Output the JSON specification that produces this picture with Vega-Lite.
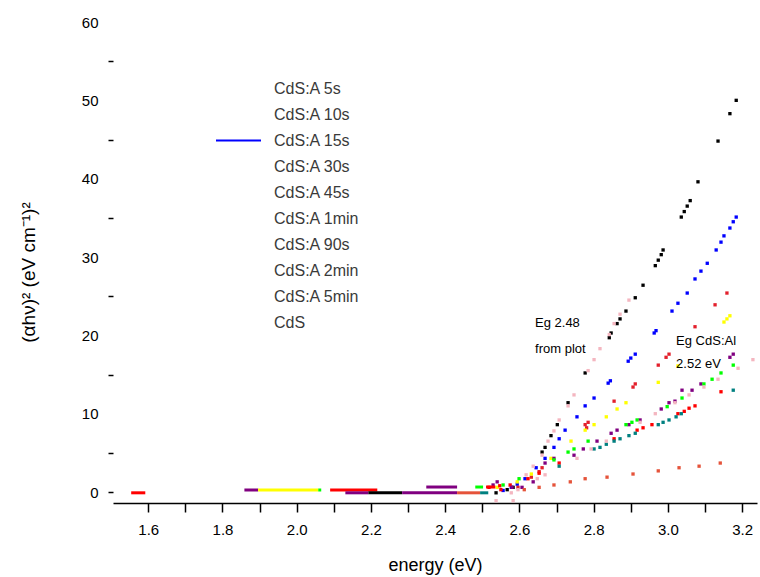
{
  "$schema": "https://vega.github.io/schema/vega-lite/v6.json",
  "width": 644,
  "height": 481,
  "autosize": {"type": "none"},
  "padding": {"left": 113, "top": 22, "right": 3, "bottom": 74},
  "background": "white",
  "config": {"view": {"stroke": null}, "font": "Liberation Sans"},
  "datasets": {
    "pts": [
      {"s":"CdS:A 5s","e":2.537,"v":-0.1},{"s":"CdS:A 5s","e":2.567,"v":0.3},{"s":"CdS:A 5s","e":2.583,"v":0.6},{"s":"CdS:A 5s","e":2.661,"v":5.1},{"s":"CdS:A 5s","e":2.669,"v":5.7},{"s":"CdS:A 5s","e":2.685,"v":7.2},{"s":"CdS:A 5s","e":2.702,"v":8.6},{"s":"CdS:A 5s","e":2.731,"v":11.4},{"s":"CdS:A 5s","e":2.777,"v":15.2},{"s":"CdS:A 5s","e":2.842,"v":19.7},{"s":"CdS:A 5s","e":2.847,"v":20.3},{"s":"CdS:A 5s","e":2.863,"v":21.5},{"s":"CdS:A 5s","e":2.871,"v":22.1},{"s":"CdS:A 5s","e":2.887,"v":23.1},{"s":"CdS:A 5s","e":2.912,"v":24.8},{"s":"CdS:A 5s","e":2.933,"v":26.4},{"s":"CdS:A 5s","e":2.966,"v":28.9},{"s":"CdS:A 5s","e":2.974,"v":29.6},{"s":"CdS:A 5s","e":2.982,"v":30.3},{"s":"CdS:A 5s","e":2.987,"v":30.9},{"s":"CdS:A 5s","e":3.036,"v":35.1},{"s":"CdS:A 5s","e":3.044,"v":35.8},{"s":"CdS:A 5s","e":3.052,"v":36.5},{"s":"CdS:A 5s","e":3.060,"v":37.2},{"s":"CdS:A 5s","e":3.081,"v":39.6},{"s":"CdS:A 5s","e":3.135,"v":44.8},{"s":"CdS:A 5s","e":3.167,"v":48.3},{"s":"CdS:A 5s","e":3.184,"v":50.0},

      {"s":"CdS:A 15s","e":2.556,"v":0.2},{"s":"CdS:A 15s","e":2.578,"v":0.6},{"s":"CdS:A 15s","e":2.594,"v":1.0},{"s":"CdS:A 15s","e":2.615,"v":1.7},{"s":"CdS:A 15s","e":2.645,"v":3.1},{"s":"CdS:A 15s","e":2.669,"v":4.3},{"s":"CdS:A 15s","e":2.693,"v":5.7},{"s":"CdS:A 15s","e":2.707,"v":6.8},{"s":"CdS:A 15s","e":2.723,"v":7.9},{"s":"CdS:A 15s","e":2.755,"v":9.6},{"s":"CdS:A 15s","e":2.777,"v":11.0},{"s":"CdS:A 15s","e":2.801,"v":12.0},{"s":"CdS:A 15s","e":2.839,"v":13.9},{"s":"CdS:A 15s","e":2.845,"v":14.2},{"s":"CdS:A 15s","e":2.893,"v":16.7},{"s":"CdS:A 15s","e":2.900,"v":17.1},{"s":"CdS:A 15s","e":2.912,"v":17.6},{"s":"CdS:A 15s","e":2.963,"v":20.3},{"s":"CdS:A 15s","e":2.968,"v":20.6},{"s":"CdS:A 15s","e":3.011,"v":23.1},{"s":"CdS:A 15s","e":3.027,"v":24.1},{"s":"CdS:A 15s","e":3.052,"v":25.4},{"s":"CdS:A 15s","e":3.073,"v":27.2},{"s":"CdS:A 15s","e":3.089,"v":28.2},{"s":"CdS:A 15s","e":3.106,"v":29.2},{"s":"CdS:A 15s","e":3.130,"v":30.9},{"s":"CdS:A 15s","e":3.143,"v":31.9},{"s":"CdS:A 15s","e":3.151,"v":32.7},{"s":"CdS:A 15s","e":3.167,"v":33.7},{"s":"CdS:A 15s","e":3.176,"v":34.5},{"s":"CdS:A 15s","e":3.184,"v":35.1},

      {"s":"CdS:A 10s","e":2.596,"v":0.6},{"s":"CdS:A 10s","e":2.632,"v":1.9},{"s":"CdS:A 10s","e":2.653,"v":2.6},{"s":"CdS:A 10s","e":2.661,"v":3.1},{"s":"CdS:A 10s","e":2.777,"v":8.6},{"s":"CdS:A 10s","e":2.781,"v":8.2},{"s":"CdS:A 10s","e":2.785,"v":8.9},{"s":"CdS:A 10s","e":2.855,"v":11.6},{"s":"CdS:A 10s","e":2.906,"v":13.4},{"s":"CdS:A 10s","e":2.912,"v":13.8},{"s":"CdS:A 10s","e":2.974,"v":16.2},{"s":"CdS:A 10s","e":2.995,"v":17.2},{"s":"CdS:A 10s","e":3.003,"v":17.6},{"s":"CdS:A 10s","e":3.073,"v":21.1},{"s":"CdS:A 10s","e":3.127,"v":23.9},{"s":"CdS:A 10s","e":3.159,"v":25.4},

      {"s":"CdS:A 90s","e":2.518,"v":0.6},{"s":"CdS:A 90s","e":2.550,"v":0.3},{"s":"CdS:A 90s","e":2.575,"v":0.9},{"s":"CdS:A 90s","e":2.623,"v":1.7},{"s":"CdS:A 90s","e":2.653,"v":2.4},{"s":"CdS:A 90s","e":2.707,"v":3.7},{"s":"CdS:A 90s","e":2.855,"v":6.8},{"s":"CdS:A 90s","e":2.917,"v":7.9},{"s":"CdS:A 90s","e":2.933,"v":8.2},{"s":"CdS:A 90s","e":2.957,"v":8.6},{"s":"CdS:A 90s","e":3.027,"v":10.0},{"s":"CdS:A 90s","e":3.044,"v":10.3},{"s":"CdS:A 90s","e":3.057,"v":10.7},{"s":"CdS:A 90s","e":3.073,"v":11.0},{"s":"CdS:A 90s","e":3.143,"v":12.8},

      {"s":"CdS:A 30s","e":2.540,"v":0.6},{"s":"CdS:A 90s","e":2.547,"v":0.8},{"s":"CdS:A 30s","e":2.594,"v":1.3},{"s":"CdS:A 30s","e":2.632,"v":2.3},{"s":"CdS:A 30s","e":2.685,"v":4.3},{"s":"CdS:A 30s","e":2.739,"v":6.5},{"s":"CdS:A 30s","e":2.777,"v":7.9},{"s":"CdS:A 30s","e":2.801,"v":8.6},{"s":"CdS:A 30s","e":2.834,"v":9.6},{"s":"CdS:A 30s","e":2.863,"v":10.6},{"s":"CdS:A 30s","e":2.887,"v":11.4},{"s":"CdS:A 30s","e":2.974,"v":14.0},{"s":"CdS:A 30s","e":3.027,"v":16.1},{"s":"CdS:A 30s","e":3.151,"v":21.7},{"s":"CdS:A 30s","e":3.159,"v":22.1},{"s":"CdS:A 30s","e":3.167,"v":22.5},

      {"s":"CdS:A 45s","e":2.529,"v":0.9},{"s":"CdS:A 45s","e":2.540,"v":1.3},{"s":"CdS:A 45s","e":2.580,"v":0.6},{"s":"CdS:A 45s","e":2.607,"v":0.6},{"s":"CdS:A 45s","e":2.637,"v":1.3},{"s":"CdS:A 45s","e":2.669,"v":3.7},{"s":"CdS:A 45s","e":2.693,"v":4.3},{"s":"CdS:A 45s","e":2.747,"v":4.7},{"s":"CdS:A 45s","e":2.772,"v":5.5},{"s":"CdS:A 45s","e":2.809,"v":6.5},{"s":"CdS:A 45s","e":2.847,"v":7.5},{"s":"CdS:A 45s","e":2.863,"v":7.9},{"s":"CdS:A 45s","e":2.895,"v":8.6},{"s":"CdS:A 45s","e":2.925,"v":9.2},{"s":"CdS:A 45s","e":2.982,"v":10.6},{"s":"CdS:A 45s","e":3.003,"v":11.4},{"s":"CdS:A 45s","e":3.019,"v":11.6},{"s":"CdS:A 45s","e":3.038,"v":13.0},{"s":"CdS:A 45s","e":3.065,"v":13.0},{"s":"CdS:A 45s","e":3.089,"v":13.8},{"s":"CdS:A 45s","e":3.167,"v":17.2},{"s":"CdS:A 45s","e":3.176,"v":17.6},

      {"s":"CdS:A 1min","e":2.556,"v":0.9},{"s":"CdS:A 1min","e":2.599,"v":1.7},{"s":"CdS:A 1min","e":2.693,"v":4.1},{"s":"CdS:A 1min","e":2.731,"v":5.1},{"s":"CdS:A 1min","e":2.747,"v":5.5},{"s":"CdS:A 1min","e":2.785,"v":6.5},{"s":"CdS:A 1min","e":2.887,"v":8.6},{"s":"CdS:A 1min","e":2.903,"v":8.9},{"s":"CdS:A 1min","e":2.917,"v":9.2},{"s":"CdS:A 1min","e":2.998,"v":10.9},{"s":"CdS:A 1min","e":3.038,"v":12.0},{"s":"CdS:A 1min","e":3.097,"v":13.8},{"s":"CdS:A 1min","e":3.119,"v":14.4},{"s":"CdS:A 1min","e":3.143,"v":15.2},{"s":"CdS:A 1min","e":3.176,"v":16.2},

      {"s":"CdS:A 2min","e":2.707,"v":3.3},{"s":"CdS:A 2min","e":2.801,"v":5.5},{"s":"CdS:A 2min","e":2.817,"v":5.7},{"s":"CdS:A 2min","e":2.834,"v":6.1},{"s":"CdS:A 2min","e":2.855,"v":6.5},{"s":"CdS:A 2min","e":2.871,"v":6.8},{"s":"CdS:A 2min","e":2.895,"v":7.2},{"s":"CdS:A 2min","e":2.912,"v":7.5},{"s":"CdS:A 2min","e":2.974,"v":8.6},{"s":"CdS:A 2min","e":2.987,"v":8.9},{"s":"CdS:A 2min","e":3.003,"v":9.2},{"s":"CdS:A 2min","e":3.022,"v":9.6},{"s":"CdS:A 2min","e":3.036,"v":10.0},{"s":"CdS:A 2min","e":3.176,"v":13.0},

      {"s":"CdS:A 5min","e":2.537,"v":-1.1},{"s":"CdS:A 5min","e":2.583,"v":-1.1},{"s":"CdS:A 5min","e":2.578,"v":-0.1},{"s":"CdS:A 5min","e":2.596,"v":0.3},{"s":"CdS:A 5min","e":2.618,"v":2.2},{"s":"CdS:A 5min","e":2.637,"v":3.3},{"s":"CdS:A 5min","e":2.661,"v":4.7},{"s":"CdS:A 5min","e":2.677,"v":6.5},{"s":"CdS:A 5min","e":2.693,"v":7.8},{"s":"CdS:A 5min","e":2.707,"v":9.2},{"s":"CdS:A 5min","e":2.731,"v":11.0},{"s":"CdS:A 5min","e":2.747,"v":12.4},{"s":"CdS:A 5min","e":2.785,"v":15.5},{"s":"CdS:A 5min","e":2.801,"v":16.9},{"s":"CdS:A 5min","e":2.817,"v":18.3},{"s":"CdS:A 5min","e":2.842,"v":20.1},{"s":"CdS:A 5min","e":2.855,"v":21.5},{"s":"CdS:A 5min","e":2.871,"v":22.7},{"s":"CdS:A 5min","e":2.895,"v":24.5},
      {"s":"CdS:A 5min","e":2.648,"v":1.7},{"s":"CdS:A 5min","e":2.669,"v":2.2},{"s":"CdS:A 5min","e":2.755,"v":4.3},{"s":"CdS:A 5min","e":2.793,"v":5.5},{"s":"CdS:A 5min","e":2.834,"v":6.5},{"s":"CdS:A 5min","e":2.925,"v":8.9},{"s":"CdS:A 5min","e":2.966,"v":10.0},{"s":"CdS:A 5min","e":3.019,"v":11.4},{"s":"CdS:A 5min","e":3.057,"v":12.4},{"s":"CdS:A 5min","e":3.097,"v":13.4},{"s":"CdS:A 5min","e":3.135,"v":14.4},{"s":"CdS:A 5min","e":3.189,"v":15.8},{"s":"CdS:A 5min","e":3.229,"v":16.9},

      {"s":"CdS","e":2.613,"v":0.3},{"s":"CdS","e":2.653,"v":0.6},{"s":"CdS","e":2.693,"v":0.9},{"s":"CdS","e":2.737,"v":1.3},{"s":"CdS","e":2.777,"v":1.7},{"s":"CdS","e":2.836,"v":1.9},{"s":"CdS","e":2.906,"v":2.3},{"s":"CdS","e":2.974,"v":2.7},{"s":"CdS","e":3.030,"v":3.1},{"s":"CdS","e":3.084,"v":3.3},{"s":"CdS","e":3.141,"v":3.7}
    ],
    "bars": [
      {"s":"CdS:A 90s","e1":1.554,"e2":1.592,"v":-0.1},
      {"s":"CdS:A 45s","e1":1.859,"e2":1.896,"v":0.26},
      {"s":"CdS:A 30s","e1":1.896,"e2":2.058,"v":0.26},
      {"s":"CdS:A 1min","e1":2.058,"e2":2.066,"v":0.26},
      {"s":"CdS:A 90s","e1":2.090,"e2":2.217,"v":0.26},
      {"s":"CdS:A 45s","e1":2.131,"e2":2.193,"v":-0.1},
      {"s":"CdS:A 5s","e1":2.193,"e2":2.284,"v":-0.1},
      {"s":"CdS:A 45s","e1":2.284,"e2":2.432,"v":-0.1},
      {"s":"CdS:A 45s","e1":2.349,"e2":2.432,"v":0.64},
      {"s":"CdS","e1":2.432,"e2":2.494,"v":-0.1},
      {"s":"CdS:A 2min","e1":2.494,"e2":2.516,"v":-0.1},
      {"s":"CdS:A 1min","e1":2.481,"e2":2.502,"v":0.64},
      {"s":"CdS:A 90s","e1":2.510,"e2":2.535,"v":0.64}
    ],
    "notes": [
      {"e":2.642,"v":21.6,"t":"Eg 2.48"},
      {"e":2.642,"v":18.3,"t":"from plot"},
      {"e":3.022,"v":19.3,"t":"Eg CdS:Al"},
      {"e":3.022,"v":16.3,"t":"2.52 eV"}
    ]
  },
  "layer": [
    {
      "data": {"name": "pts"},
      "mark": {"type": "point", "shape": "square", "filled": true, "size": 11, "opacity": 1},
      "encoding": {
        "x": {
          "field": "e", "type": "quantitative",
          "scale": {"domain": [1.505, 3.24], "nice": false, "zero": false},
          "axis": {
            "title": "energy (eV)", "titleFontSize": 18, "titleFontWeight": "normal", "titleColor": "black", "titlePadding": 19,
            "values": [1.6,1.7,1.8,1.9,2.0,2.1,2.2,2.3,2.4,2.5,2.6,2.7,2.8,2.9,3.0,3.1,3.2],
            "labelExpr": "(round(datum.value*10) % 2 == 0) ? format(datum.value, '.1f') : ''",
            "labelFontSize": 15, "labelColor": "black", "labelPadding": 10, "labelFlush": false,
            "tickSize": 9, "tickColor": "black", "tickWidth": 1.5,
            "domainColor": "black", "domainWidth": 1.5, "grid": false
          }
        },
        "y": {
          "field": "v", "type": "quantitative",
          "scale": {"domain": [-1.4, 60], "nice": false, "zero": false},
          "axis": {
            "title": "(αhν)² (eV cm⁻¹)²", "titleFontSize": 19, "titleFontWeight": "normal", "titleColor": "black",
            "titleAngle": -90, "titleX": -85, "titleY": 250, "titleAlign": "center", "titleBaseline": "middle",
            "values": [0,5,10,15,20,25,30,35,40,45,50,55,60],
            "labelExpr": "datum.value % 10 == 0 ? datum.label : ''",
            "labelFontSize": 15, "labelColor": "black", "labelPadding": 10,
            "tickSize": 5, "tickColor": "black", "tickWidth": 1.5,
            "tickOpacity": {"condition": {"test": "datum.value % 10 == 0 && datum.value != 0", "value": 0}, "value": 1},
            "domain": false, "grid": false
          }
        },
        "color": {
          "field": "s", "type": "nominal",
          "scale": {
            "domain": ["CdS:A 5s","CdS:A 10s","CdS:A 15s","CdS:A 30s","CdS:A 45s","CdS:A 1min","CdS:A 90s","CdS:A 2min","CdS:A 5min","CdS"],
            "range": ["#000000","#e3202c","#0000ff","#ffff00","#800080","#00ff00","#ff0000","#008080","#f4b6c0","#e5533a"]
          },
          "legend": {
            "orient": "none", "legendX": 117, "legendY": 58, "padding": 0,
            "title": null,
            "symbolType": "M-3,0H3", "symbolSize": 225, "symbolStrokeWidth": 2, "symbolOpacity": 0,
            "labelFontSize": 16, "labelColor": "#3a3a3a", "labelOffset": 27,
            "rowPadding": 9, "labelLimit": 300
          }
        }
      }
    },
    {
      "data": {"name": "bars"},
      "mark": {"type": "rule", "strokeWidth": 3},
      "encoding": {
        "x": {"field": "e1", "type": "quantitative"},
        "x2": {"field": "e2"},
        "y": {"field": "v", "type": "quantitative"},
        "stroke": {
          "field": "s", "type": "nominal",
          "scale": {
            "domain": ["CdS:A 15s","CdS:A 5s","CdS:A 10s","CdS:A 30s","CdS:A 45s","CdS:A 1min","CdS:A 90s","CdS:A 2min","CdS:A 5min","CdS"],
            "range": ["#0000ff","#000000","#e3202c","#ffff00","#800080","#00ff00","#ff0000","#008080","#f4b6c0","#e5533a"]
          },
          "legend": {
            "orient": "none", "legendX": 117, "legendY": 110, "padding": 0,
            "title": null, "values": ["CdS:A 15s"],
            "symbolType": "M-3,0H3", "symbolSize": 225, "symbolStrokeWidth": 2,
            "labelFontSize": 16, "labelOpacity": 0, "labelOffset": 27, "rowPadding": 9
          }
        }
      }
    },
    {
      "data": {"name": "notes"},
      "mark": {"type": "text", "align": "left", "baseline": "middle", "fontSize": 13, "color": "black"},
      "encoding": {
        "x": {"field": "e", "type": "quantitative"},
        "y": {"field": "v", "type": "quantitative"},
        "text": {"field": "t"}
      }
    }
  ]
}
